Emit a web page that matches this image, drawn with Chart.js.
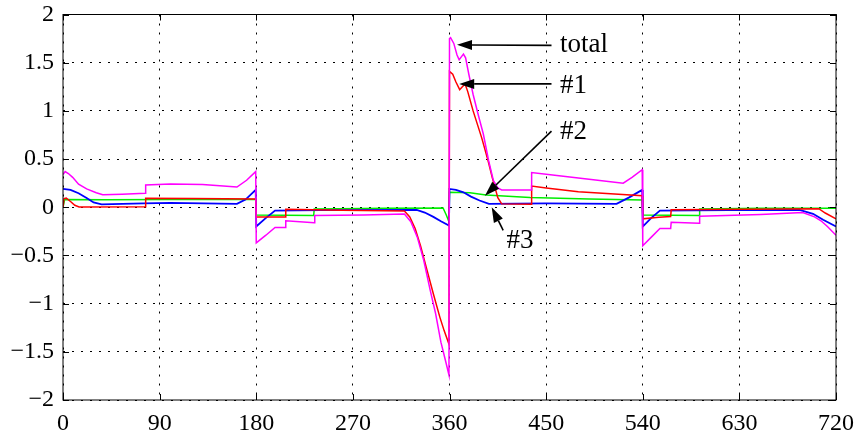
<!DOCTYPE html>
<html>
<head>
<meta charset="utf-8">
<script src="https://cdn.jsdelivr.net/npm/chart.js@4/dist/chart.umd.min.js"></script>
<style>
  html, body { margin: 0; padding: 0; background: #fff; }
  #wrap { width: 858px; height: 432px; position: relative; }
</style>
</head>
<body>
<div id="wrap"><canvas id="torque"></canvas></div>
<script>
"use strict";

// rotor angle ticks and value ticks
var angleTicks = [0, 90, 180, 270, 360, 450, 540, 630, 720];
var valueTicks = [-2, -1.5, -1, -0.5, 0, 0.5, 1, 1.5, 2];

// [angle, value] samples per curve
var totalVals = [
    [0, 0.34], [2, 0.37], [5, 0.35], [9, 0.31], [14.5, 0.24], [22, 0.19], [31, 0.15], [37, 0.13],
    [55, 0.135], [76.5, 0.145], [77, 0.23], [100, 0.24], [130, 0.235], [162, 0.21], [171, 0.28],
    [179.5, 0.37], [180, -0.37], [189, -0.29], [197.5, -0.21], [207, -0.21], [207.5, -0.14],
    [234, -0.16], [234.5, -0.085], [280, -0.08], [318, -0.07], [324, -0.15], [330, -0.31],
    [336, -0.55], [342, -0.86], [347, -1.1], [352, -1.4], [356, -1.58], [359.5, -1.74],
    [360, 1.75], [361, 1.76], [364, 1.7], [367, 1.58], [369, 1.53], [371, 1.56], [373, 1.59],
    [375, 1.55], [378, 1.38], [382, 1.17], [387, 0.95], [391.5, 0.76], [396.5, 0.48],
    [400.8, 0.28], [405, 0.2], [408.6, 0.18], [436, 0.18], [436.5, 0.36], [460, 0.33],
    [490, 0.29], [521.8, 0.25], [530, 0.31], [539.5, 0.39], [540, -0.4], [548, -0.31],
    [556, -0.22], [566, -0.22], [566.5, -0.155], [592.5, -0.165], [593, -0.093], [650, -0.075],
    [689, -0.055], [700, -0.1], [706, -0.14], [712, -0.2], [720, -0.29]
];
var ph1Vals = [
    [0, 0.0], [1, 0.09], [3, 0.095], [7, 0.06], [11, 0.02], [15, 0.003], [76.5, 0.005],
    [77, 0.093], [120, 0.09], [179.5, 0.085], [180, -0.1], [207, -0.1], [207.5, -0.02],
    [260, -0.03], [318, -0.04], [323, -0.1], [328, -0.22], [333, -0.4], [339, -0.65],
    [345, -0.9], [351, -1.14], [355, -1.28], [359.5, -1.42], [360, 1.41], [363, 1.38],
    [366, 1.3], [369.5, 1.22], [372, 1.25], [374.5, 1.28], [377, 1.2], [382, 1.0],
    [386, 0.86], [390, 0.72], [396, 0.48], [400, 0.3], [405, 0.1], [408.6, 0.035],
    [436, 0.03], [436.5, 0.22], [450, 0.2], [480, 0.16], [510, 0.14], [539.5, 0.12],
    [540, -0.12], [555, -0.105], [566, -0.096], [566.5, -0.027], [640, -0.02], [704, -0.015],
    [710, -0.06], [720, -0.12]
];
var ph2Vals = [
    [0, 0.19], [7, 0.18], [14.5, 0.145], [22, 0.097], [28.5, 0.05], [36, 0.03], [75, 0.04],
    [100, 0.045], [162, 0.035], [170, 0.08], [179.5, 0.18], [180, -0.2], [188, -0.12],
    [197.5, -0.035], [240, -0.03], [329.5, -0.027], [337, -0.055], [345, -0.1], [352, -0.145],
    [359.5, -0.19], [360, 0.19], [366, 0.18], [373, 0.155], [380, 0.11], [388, 0.07],
    [396.7, 0.035], [450, 0.04], [515.6, 0.035], [527, 0.1], [539.5, 0.18], [540, -0.2],
    [548, -0.11], [556, -0.035], [620, -0.03], [686, -0.027], [698.6, -0.068], [708, -0.13],
    [720, -0.2]
];
var ph3Vals = [
    [0, 0.0], [1.5, 0.08], [40, 0.078], [100, 0.08], [179.5, 0.08], [180, -0.08],
    [233.5, -0.086], [234, -0.017], [300, -0.01], [354, -0.007], [357, -0.08], [359.5, -0.15],
    [360, 0.155], [379, 0.15], [394, 0.128], [435, 0.1], [490, 0.085], [539.5, 0.076],
    [540, -0.08], [592.5, -0.085], [593, -0.017], [650, -0.01], [720, -0.01]
];

var FONT = "'Liberation Serif', 'Times New Roman', serif";

function toXY(arr) {
    return arr.map(function(p) { return { x: p[0], y: p[1] }; });
}

function line(label, vals, color, width) {
    return {
        label: label,
        data: toXY(vals),
        borderColor: color,
        borderWidth: width,
        pointRadius: 0,
        tension: 0,
        fill: false
    };
}

// callouts: text anchor, arrow tail and arrow tip, all in axis units
var callouts = [
    { text: "total", at: [463, 1.68], from: [455, 1.68], to: [367, 1.685] },
    { text: "#1", at: [463, 1.26], from: [455, 1.28], to: [369, 1.28] },
    { text: "#2", at: [463, 0.78], from: [455, 0.79], to: [393, 0.12] },
    { text: "#3", at: [413, -0.35], from: [410, -0.24], to: [399.3, 0.0] }
];

var framePlugin = {
    id: "frame",
    afterDatasetsDraw: function(chart) {
        var ctx = chart.ctx, a = chart.chartArea;
        var xs = chart.scales.x, ys = chart.scales.y;
        ctx.save();
        ctx.strokeStyle = "#000";
        ctx.lineWidth = 1;
        ctx.setLineDash([]);
        ctx.strokeRect(a.left, a.top, a.right - a.left, a.bottom - a.top);
        ctx.beginPath();
        angleTicks.forEach(function(v) {
            var px = Math.round(xs.getPixelForValue(v)) + 0.5;
            ctx.moveTo(px, a.bottom); ctx.lineTo(px, a.bottom - 6);
            ctx.moveTo(px, a.top); ctx.lineTo(px, a.top + 6);
        });
        valueTicks.forEach(function(v) {
            var py = Math.round(ys.getPixelForValue(v)) + 0.5;
            ctx.moveTo(a.left, py); ctx.lineTo(a.left + 6, py);
            ctx.moveTo(a.right, py); ctx.lineTo(a.right - 6, py);
        });
        ctx.stroke();

        // arrows and their labels
        ctx.fillStyle = "#000";
        ctx.lineWidth = 1.6;
        ctx.font = "27px " + FONT;
        ctx.textBaseline = "middle";
        ctx.textAlign = "left";
        callouts.forEach(function(c) {
            var x1 = xs.getPixelForValue(c.from[0]), y1 = ys.getPixelForValue(c.from[1]);
            var x2 = xs.getPixelForValue(c.to[0]), y2 = ys.getPixelForValue(c.to[1]);
            var ang = Math.atan2(y2 - y1, x2 - x1);
            var len = 15, half = 5;
            var bx = x2 - len * Math.cos(ang), by = y2 - len * Math.sin(ang);
            ctx.beginPath();
            ctx.moveTo(x1, y1);
            ctx.lineTo(bx, by);
            ctx.stroke();
            ctx.beginPath();
            ctx.moveTo(x2, y2);
            ctx.lineTo(bx + half * Math.sin(ang), by - half * Math.cos(ang));
            ctx.lineTo(bx - half * Math.sin(ang), by + half * Math.cos(ang));
            ctx.closePath();
            ctx.fill();
            ctx.fillText(c.text, xs.getPixelForValue(c.at[0]), ys.getPixelForValue(c.at[1]));
        });
        ctx.restore();
    }
};

var TorquePlot = function() {
    return {
        init: function() {
            Chart.defaults.font.family = FONT;
            Chart.defaults.color = "#000";
            new Chart(document.getElementById("torque"), {
                type: "line",
                data: {
                    datasets: [
                        line("total", totalVals, "#ff00ff", 1.5),
                        line("#1", ph1Vals, "#ff0000", 1.5),
                        line("#2", ph2Vals, "#0000ff", 1.8),
                        line("#3", ph3Vals, "#00ee00", 1.5)
                    ]
                },
                options: {
                    responsive: true,
                    maintainAspectRatio: false,
                    animation: false,
                    layout: { padding: { top: 14.5, right: 22, left: 0, bottom: 0 } },
                    plugins: {
                        legend: { display: false },
                        tooltip: { enabled: false }
                    },
                    scales: {
                        x: {
                            type: "linear",
                            min: 0,
                            max: 720,
                            afterBuildTicks: function(s) {
                                s.ticks = angleTicks.map(function(v) { return { value: v }; });
                            },
                            afterFit: function(s) {
                                s.height = 32;
                                s.paddingLeft = 0;
                                s.paddingRight = 0;
                            },
                            ticks: { font: { size: 24 }, padding: 9, maxRotation: 0 },
                            grid: { color: "#000", lineWidth: 1, drawTicks: false },
                            border: { display: false, dash: [2, 7] }
                        },
                        y: {
                            min: -2,
                            max: 2,
                            afterBuildTicks: function(s) {
                                s.ticks = valueTicks.map(function(v) { return { value: v }; });
                            },
                            afterFit: function(s) {
                                s.width = 63;
                                s.paddingTop = 0;
                                s.paddingBottom = 0;
                            },
                            ticks: {
                                font: { size: 24 },
                                padding: 9,
                                callback: function(v) { return String(v).replace("-", "\u2212"); }
                            },
                            grid: { color: "#000", lineWidth: 1, drawTicks: false },
                            border: { display: false, dash: [2, 7] }
                        }
                    }
                },
                plugins: [framePlugin]
            });
        }
    };
}();

document.addEventListener("DOMContentLoaded", function() {
    TorquePlot.init();
});
</script>
</body>
</html>
